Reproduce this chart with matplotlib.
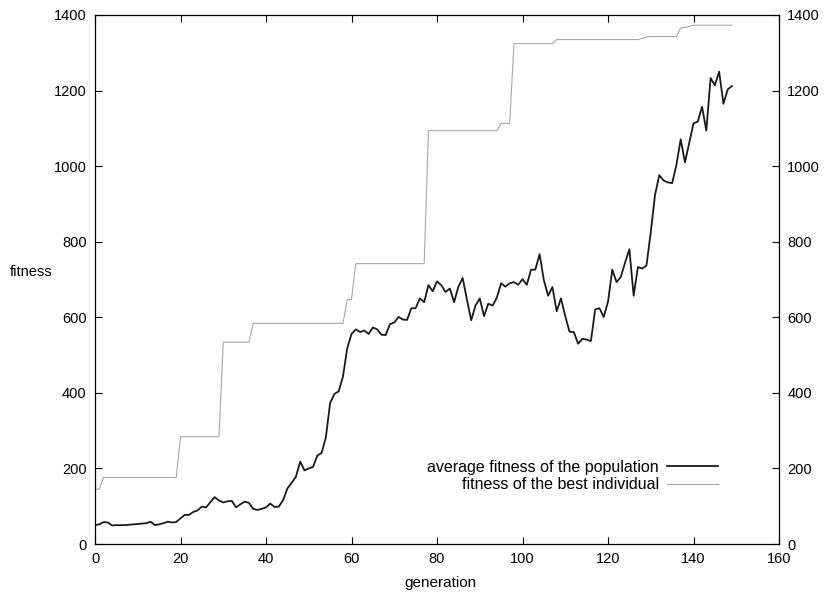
import matplotlib
matplotlib.use("Agg")
import matplotlib.pyplot as plt

generations = list(range(150))

avg_fitness = [
    50, 52, 58, 57, 49, 50, 50, 50, 51, 52, 53, 54, 55, 59, 50, 52, 55, 59, 57, 58,
    68, 77, 77, 85, 89, 99, 97, 111, 124, 115, 110, 113, 114, 97, 105, 112, 109, 93, 90, 93,
    97, 107, 98, 99, 116, 147, 162, 178, 218, 195, 200, 204, 234, 241, 282, 373, 397, 404,
    443, 518, 556, 568, 561, 565, 556, 573, 568, 554, 553, 582, 586, 601, 594, 593, 624, 624,
    650, 640, 685, 669,
    695, 685, 667, 676, 640, 681, 704, 647, 592, 631, 650, 603, 636, 631, 652, 690, 681, 690,
    693, 686, 701, 686, 726, 726, 767, 698, 657, 680, 616, 650, 603, 562, 561, 530,
    543, 541, 537, 621, 624, 601, 641, 726, 693, 707, 745, 780, 657, 733, 729, 737, 825, 924,
    976, 962, 957, 955, 1003, 1071, 1010, 1061, 1113, 1118, 1157, 1094, 1233, 1214, 1250, 1165,
    1203, 1212,
]

best_fitness = [
    145, 145,
    176, 176, 176, 176, 176, 176, 176, 176, 176, 176, 176, 176, 176, 176, 176, 176, 176, 176,
    284, 284, 284, 284, 284, 284, 284, 284, 284, 284,
    534, 534, 534, 534, 534, 534, 534,
    584, 584, 584, 584, 584, 584, 584, 584, 584, 584, 584, 584, 584, 584, 584, 584, 584, 584,
    584, 584, 584, 584,
    647, 647,
    742, 742, 742, 742, 742, 742, 742, 742, 742, 742, 742, 742, 742, 742, 742, 742, 742,
    1094, 1094, 1094, 1094, 1094, 1094, 1094, 1094, 1094, 1094, 1094, 1094, 1094, 1094, 1094,
    1094, 1094,
    1113, 1113, 1113,
    1324, 1324, 1324, 1324, 1324, 1324, 1324, 1324, 1324, 1324,
    1335, 1335, 1335, 1335, 1335, 1335, 1335, 1335, 1335, 1335, 1335, 1335, 1335, 1335, 1335,
    1335, 1335, 1335, 1335, 1335,
    1338, 1342,
    1343, 1343, 1343, 1343, 1343, 1343, 1343,
    1366, 1367, 1370,
    1373, 1373, 1373, 1373, 1373, 1373, 1373, 1373, 1373, 1373,
]

x_ticks = [0, 20, 40, 60, 80, 100, 120, 140, 160]
y_ticks = [0, 200, 400, 600, 800, 1000, 1200, 1400]
labels = ["average fitness of the population", "fitness of the best individual"]

plt.rcParams['font.family'] = ['Liberation Sans', 'DejaVu Sans']
plt.rcParams['font.size'] = 10.5

fig = plt.figure(figsize=(8.3, 5.95), dpi=100)
ax = fig.add_axes([95/830, 51/595, 684/830, 529/595])

ax.plot(generations, avg_fitness, color='#1a1a1a', lw=1.3, label=labels[0])
ax.plot(generations, best_fitness, color='#a8a8a8', lw=0.8, label=labels[1])

ax.set_xlim(0, 160)
ax.set_ylim(0, 1400)
ax.set_xticks(x_ticks)
ax.set_yticks(y_ticks)
ax.tick_params(direction='in', length=5, width=0.8, top=True, right=True,
               labelright=True, labelsize=10.5, pad=6)
for s in ax.spines.values():
    s.set_linewidth(0.9)

leg = ax.legend(loc='center right', bbox_to_anchor=((718-95)/684, (544-476)/529),
                frameon=False, markerfirst=False, handlelength=3.2, handletextpad=0.5,
                labelspacing=0.15, borderaxespad=0, borderpad=0, fontsize=11.5)
for t in leg.get_texts():
    t.set_ha('right')

fig.text(440/830, 1 - 583/595, 'generation', ha='center', va='center', fontsize=11)
fig.text(31/830, 1 - 272/595, 'fitness', ha='center', va='center', fontsize=10.5)

fig.savefig('out.png', dpi=100)
